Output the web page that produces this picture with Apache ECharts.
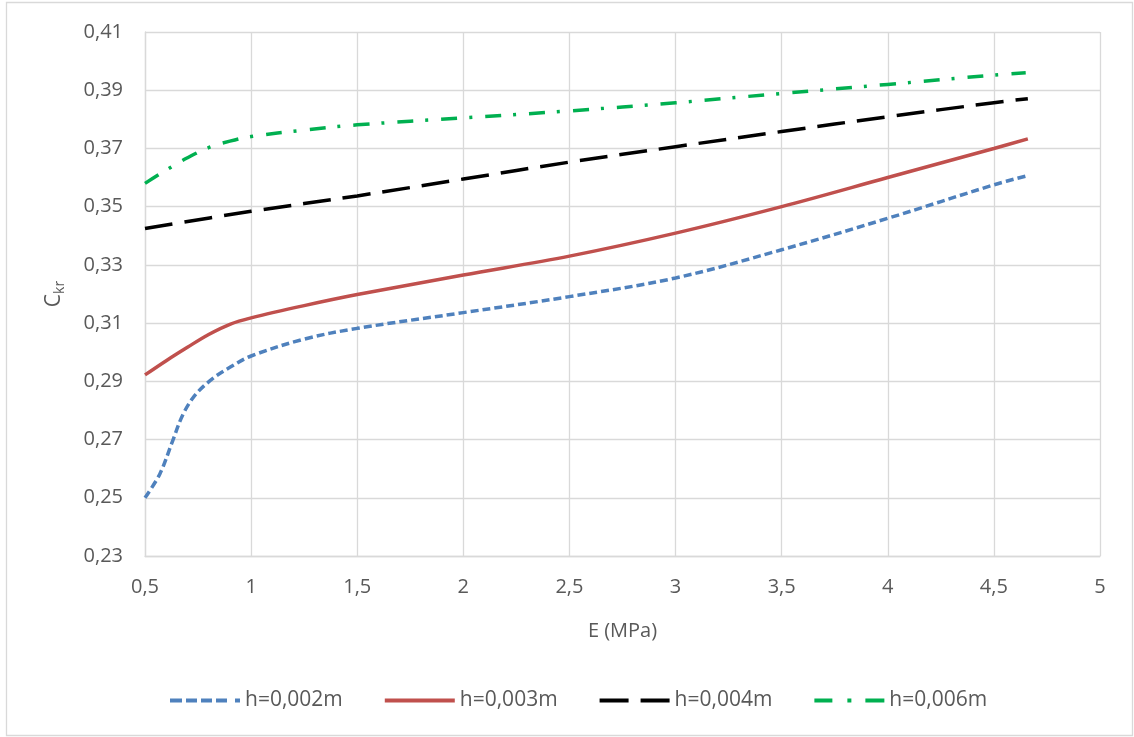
<!DOCTYPE html>
<html>
<head>
<meta charset="utf-8">
<title>Ckr vs E</title>
<script src="https://cdn.jsdelivr.net/npm/echarts@6/dist/echarts.min.js"></script>
<style>
  html, body { margin: 0; padding: 0; background: #ffffff; }
  #chart { width: 1134px; height: 737px; }
</style>
</head>
<body>
<div id="chart"></div>
<script>
// Critical coefficient C_kr against elastic modulus E (MPa) for four thicknesses h
const seriesNames = ['h=0,002m', 'h=0,003m', 'h=0,004m', 'h=0,006m'];

const h002 = [
  [0.50, 0.2500], [0.57, 0.2582], [0.63, 0.2695], [0.68, 0.2788], [0.74, 0.2856],
  [0.82, 0.2910], [0.90, 0.2948], [1.00, 0.2987], [1.25, 0.3045], [1.50, 0.3082],
  [2.00, 0.3136], [2.50, 0.3191], [3.00, 0.3255], [3.50, 0.3352], [4.00, 0.3460],
  [4.50, 0.3575], [4.65, 0.3605]
];
const h003 = [
  [0.50, 0.2922], [0.60, 0.2971], [0.70, 0.3017], [0.80, 0.3061], [0.90, 0.3096],
  [1.00, 0.3118], [1.25, 0.3160], [1.50, 0.3198], [2.00, 0.3265], [2.50, 0.3330],
  [3.00, 0.3409], [3.50, 0.3500], [4.00, 0.3600], [4.50, 0.3700], [4.66, 0.3733]
];
const h004 = [
  [0.50, 0.3425], [1.00, 0.3484], [1.50, 0.3537], [2.00, 0.3595], [2.50, 0.3653],
  [3.00, 0.3706], [3.50, 0.3758], [4.00, 0.3809], [4.50, 0.3857], [4.66, 0.3871]
];
const h006 = [
  [0.50, 0.3580], [0.60, 0.3626], [0.70, 0.3668], [0.80, 0.3703], [0.90, 0.3725],
  [1.00, 0.3741], [1.25, 0.3763], [1.50, 0.3781], [2.00, 0.3805], [2.50, 0.3829],
  [3.00, 0.3857], [3.50, 0.3889], [4.00, 0.3920], [4.50, 0.3952], [4.65, 0.3960]
];

const seriesData = [h002, h003, h004, h006];
const seriesColors = ['#4F81BD', '#C0504D', '#000000', '#00B050'];
const seriesDashes = [[8, 4], 'solid', [28, 12], [16, 12, 3, 13]];

// Legend swatches: short strokes drawn as paths, 70 x 4 units
const legendIcons = [
  'path://M0,0h12v4h-12z M16,0h11v4h-11z M31,0h11v4h-11z M46,0h11v4h-11z M65,0h5v4h-5z',
  'path://M0,0h70v4h-70z',
  'path://M0,0h29v4h-29z M41,0h29v4h-29z',
  'path://M0,0h18v4h-18z M33,0h4v4h-4z M51,0h19v4h-19z'
];

const FONT = '"Open Sans", "Liberation Sans", sans-serif';
const TEXT = '#595959';
const GRID = '#d9d9d9';

const commaFmt = (digits) => (v) => {
  const s = digits == null ? String(+v.toFixed(4)) : v.toFixed(digits);
  return s.replace('.', ',');
};

const chart = echarts.init(document.getElementById('chart'), null, { renderer: 'canvas' });

chart.setOption({
  animation: false,
  backgroundColor: '#ffffff',
  textStyle: { fontFamily: FONT },
  graphic: [{
    type: 'rect',
    shape: { x: 6.5, y: 2.5, width: 1126, height: 733 },
    style: { fill: 'none', stroke: GRID, lineWidth: 1.3 },
    silent: true
  }],
  grid: { left: 145, right: 34, top: 32, bottom: 181, containLabel: false },
  xAxis: {
    type: 'value',
    min: 0.5, max: 5, interval: 0.5,
    name: 'E (MPa)',
    nameLocation: 'middle',
    nameGap: 65,
    nameTextStyle: { color: TEXT, fontSize: 20, fontFamily: FONT },
    axisLine: { show: true, lineStyle: { color: GRID, width: 1.3 } },
    axisTick: { show: false },
    axisLabel: { color: TEXT, fontSize: 20, fontFamily: FONT, margin: 21, formatter: commaFmt(null) },
    splitLine: { show: true, lineStyle: { color: GRID, width: 1.3 } }
  },
  yAxis: {
    type: 'value',
    min: 0.23, max: 0.41, interval: 0.02,
    name: '{c|C}{s|kr}',
    nameLocation: 'middle',
    nameRotate: 90,
    nameGap: 78,
    nameTextStyle: {
      color: TEXT, fontFamily: FONT,
      rich: {
        c: { fontSize: 21, color: TEXT, fontFamily: FONT, lineHeight: 26 },
        s: { fontSize: 14, color: TEXT, fontFamily: FONT, verticalAlign: 'bottom', lineHeight: 26, padding: [9, 0, 0, 0] }
      }
    },
    axisLine: { show: true, lineStyle: { color: GRID, width: 1.3 } },
    axisTick: { show: false },
    axisLabel: { color: TEXT, fontSize: 20, fontFamily: FONT, margin: 22, formatter: commaFmt(2) },
    splitLine: { show: true, lineStyle: { color: GRID, width: 1.3 } }
  },
  legend: {
    show: true,
    left: 170,
    top: 690,
    padding: 0,
    itemGap: 42,
    itemWidth: 70,
    itemHeight: 4,
    textStyle: { color: TEXT, fontSize: 21, fontFamily: FONT },
    data: seriesNames.map((name, i) => ({
      name: name,
      icon: legendIcons[i],
      itemStyle: { color: seriesColors[i], borderWidth: 0 }
    }))
  },
  series: seriesNames.map((name, i) => ({
    name: name,
    type: 'line',
    data: seriesData[i],
    smooth: 0.35,
    symbol: 'none',
    showSymbol: false,
    lineStyle: {
      color: seriesColors[i],
      width: 3.5,
      type: seriesDashes[i],
      cap: 'butt'
    },
    itemStyle: { color: seriesColors[i] },
    emphasis: { disabled: true }
  }))
});
</script>
</body>
</html>
